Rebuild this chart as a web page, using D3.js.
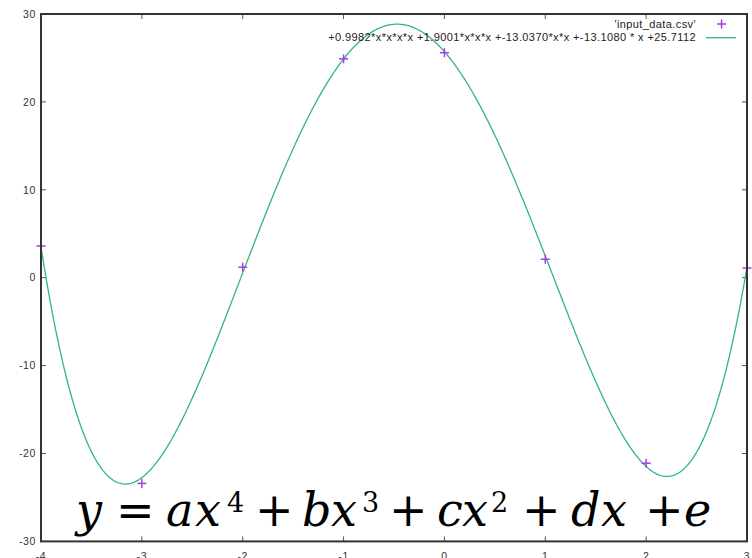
<!DOCTYPE html>
<html>
<head>
<meta charset="utf-8">
<script src="https://cdn.jsdelivr.net/npm/d3@7"></script>
<style>
  html, body { margin: 0; padding: 0; background: #fff; }
  svg { display: block; }
</style>
</head>
<body>
<svg id="chart" width="752" height="558"></svg>
<script>
// Measured points from input_data.csv
const xValues = [-4, -3, -2, -1, 0, 1, 2, 3];
const yValues = [3.6, -23.4, 1.2, 24.9, 25.6, 2.1, -21.1, 1.1];

// Fitted quartic coefficients: a, b, c, d, e
const coeffs = [0.9982, 1.9001, -13.0370, -13.1080, 25.7112];

const xTicks = [-4, -3, -2, -1, 0, 1, 2, 3];
const yTicks = [-30, -20, -10, 0, 10, 20, 30];

const legendLabels = [
  "'input_data.csv'",
  "+0.9982*x*x*x*x +1.9001*x*x*x +-13.0370*x*x +-13.1080 * x +25.7112"
];

const svg = d3.select("#chart");
const plotLeft = 41, plotRight = 747, plotTop = 14, plotBottom = 541.4;

const x = d3.scaleLinear().domain([-4, 3]).range([plotLeft, plotRight]);
const y = d3.scaleLinear().domain([-30, 30]).range([plotBottom, plotTop]);

const axisColor = "#333";
const font = "'Liberation Sans', Arial, sans-serif";

// Tick marks on all four sides, pointing inward
const tickLen = 5;
const ticks = svg.append("g").attr("stroke", "#555").attr("stroke-width", 1);
xTicks.forEach(t => {
  ticks.append("line").attr("x1", x(t)).attr("x2", x(t)).attr("y1", plotBottom).attr("y2", plotBottom - tickLen);
  ticks.append("line").attr("x1", x(t)).attr("x2", x(t)).attr("y1", plotTop).attr("y2", plotTop + tickLen);
});
yTicks.forEach(t => {
  ticks.append("line").attr("x1", plotLeft).attr("x2", plotLeft + tickLen).attr("y1", y(t)).attr("y2", y(t));
  ticks.append("line").attr("x1", plotRight).attr("x2", plotRight - tickLen).attr("y1", y(t)).attr("y2", y(t));
});

// Tick labels
svg.append("g").selectAll("text").data(yTicks).join("text")
  .attr("x", plotLeft - 5).attr("y", d => y(d)).attr("dy", "0.36em")
  .attr("text-anchor", "end")
  .attr("font-family", font).attr("font-size", 10.5).attr("letter-spacing", 0.6)
  .attr("fill", axisColor)
  .text(d => d);

svg.append("g").selectAll("text").data(xTicks).join("text")
  .attr("x", d => x(d)).attr("y", plotBottom + 19)
  .attr("text-anchor", "middle")
  .attr("font-family", font).attr("font-size", 10.5).attr("letter-spacing", 0.6)
  .attr("fill", axisColor)
  .text(d => d);

// Fitted curve
const poly = v => coeffs.reduce((acc, c) => acc * v + c, 0);
const curveXs = d3.range(0, 701).map(i => -4 + i * 7 / 700);
const line = d3.line().x(d => x(d)).y(d => y(poly(d)));
svg.append("path")
  .datum(curveXs)
  .attr("d", line)
  .attr("fill", "none")
  .attr("stroke", "#2fb48c")
  .attr("stroke-width", 1.3);

// Data markers as plus signs
const markerColor = "#a63ce6";
const plusSize = 4.5;
const pts = svg.append("g").attr("stroke", markerColor).attr("stroke-width", 1.5);
xValues.forEach((xv, i) => {
  const cx = x(xv), cy = y(yValues[i]);
  pts.append("line").attr("x1", cx - plusSize).attr("x2", cx + plusSize).attr("y1", cy).attr("y2", cy);
  pts.append("line").attr("x1", cx).attr("x2", cx).attr("y1", cy - plusSize).attr("y2", cy + plusSize);
});

// Plot border
svg.append("rect")
  .attr("x", plotLeft).attr("y", plotTop)
  .attr("width", plotRight - plotLeft).attr("height", plotBottom - plotTop)
  .attr("fill", "none").attr("stroke", axisColor).attr("stroke-width", 2);

// Legend
const legend = svg.append("g");
legend.selectAll("text").data(legendLabels).join("text")
  .attr("x", 696).attr("y", (d, i) => 27.8 + i * 13.5)
  .attr("text-anchor", "end")
  .attr("font-family", font).attr("font-size", 11).attr("letter-spacing", 0.4)
  .attr("fill", "#222")
  .text(d => d);
legend.append("line").attr("x1", 721.5 - plusSize).attr("x2", 721.5 + plusSize).attr("y1", 24).attr("y2", 24)
  .attr("stroke", markerColor).attr("stroke-width", 1.5);
legend.append("line").attr("x1", 721.5).attr("x2", 721.5).attr("y1", 24 - plusSize).attr("y2", 24 + plusSize)
  .attr("stroke", markerColor).attr("stroke-width", 1.5);
legend.append("line").attr("x1", 706).attr("x2", 736).attr("y1", 37.7).attr("y2", 37.7)
  .attr("stroke", "#2fb48c").attr("stroke-width", 1.3);

// Model equation, glyph by glyph
const eqFont = "'DejaVu Serif', serif";
const base = 526;
const eq = svg.append("text").attr("font-family", eqFont).attr("fill", "#000");
const parts = [
  { t: "y", x: 76, it: true },
  { t: "=", x: 116 },
  { t: "a", x: 166, it: true },
  { t: "x", x: 195, it: true },
  { t: "4", x: 227, sup: true },
  { t: "+", x: 255 },
  { t: "b", x: 302, it: true },
  { t: "x", x: 331, it: true },
  { t: "3", x: 362, sup: true },
  { t: "+", x: 389 },
  { t: "c", x: 437, it: true },
  { t: "x", x: 462, it: true },
  { t: "2", x: 491, sup: true },
  { t: "+", x: 522 },
  { t: "d", x: 571, it: true },
  { t: "x", x: 601, it: true },
  { t: "+", x: 645 },
  { t: "e", x: 684, it: true }
];
parts.forEach(p => {
  eq.append("tspan")
    .attr("x", p.x)
    .attr("y", p.sup ? base - 14 : base)
    .attr("font-size", p.sup ? 27 : 46)
    .attr("font-style", p.it ? "italic" : "normal")
    .text(p.t);
});
</script>
</body>
</html>
